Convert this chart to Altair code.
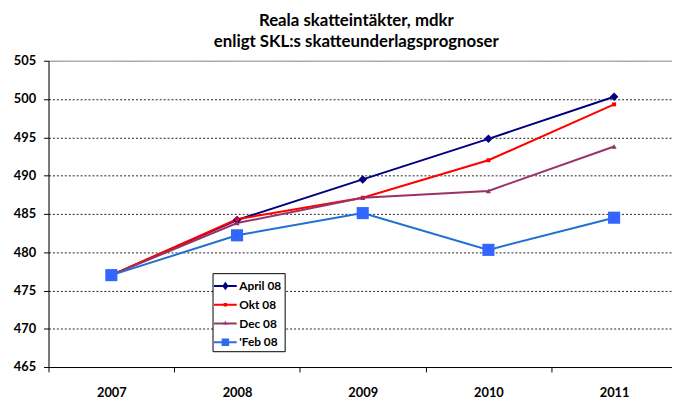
import altair as alt
import pandas as pd

years = ["2007", "2008", "2009", "2010", "2011"]
series_names = ["April 08", "Okt  08", "Dec 08", "'Feb 08"]
april = [477.0, 484.2, 489.5, 494.8, 500.3]
okt = [477.0, 484.3, 487.1, 492.0, 499.3]
dec = [477.0, 483.8, 487.1, 488.0, 493.8]
feb = [477.0, 482.2, 485.1, 480.3, 484.5]

line_colors = ["#000080", "#FF0000", "#993366", "#1F70D0"]
marker_colors = ["#000080", "#FF0000", "#993366", "#3366FF"]
legend_colors = ["#000080", "#FF0000", "#993366", "#2F6BE8"]
marker_shapes = ["diamond", "square", "triangle-up", "square"]
marker_sizes = [75, 16, 28, 150]

bar = "M-1.15,-0.1H1.15V0.1H-1.15Z "
legend_shapes = [
    bar + "M0,-0.42L0.32,0L0,0.42L-0.32,0Z",
    bar + "M-0.17,-0.17H0.17V0.17H-0.17Z",
    bar + "M0,-0.28L0.22,0.12L-0.22,0.12Z",
    bar + "M-0.38,-0.38H0.38V0.38H-0.38Z",
]

rows = []
for name, vals in zip(series_names, [april, okt, dec, feb]):
    for y, v in zip(years, vals):
        rows.append({"series": name, "year": y, "value": v})
df = pd.DataFrame(rows)

FONT = "Lato"

x_enc = alt.X(
    "year:N",
    sort=years,
    scale=alt.Scale(type="band", range=[0, 636], paddingInner=0, paddingOuter=0),
    axis=alt.Axis(
        title=None, tickBand="extent", tickSize=5, tickColor="#000000",
        domainColor="#000000", labelFont=FONT, labelFontSize=13,
        labelFontWeight="bold", labelColor="#000000", labelPadding=15,
        labelAngle=0, grid=False,
    ),
)
y_enc = alt.Y(
    "value:Q",
    scale=alt.Scale(domain=[465, 505], nice=False, zero=False),
    axis=alt.Axis(
        title=None, values=list(range(465, 506, 5)), tickSize=5,
        tickColor="#000000", domainColor="#000000", labelFont=FONT,
        labelFontSize=13, labelFontWeight="bold", labelColor="#000000",
        labelPadding=8, grid=True,
        gridColor={"condition": {"test": "datum.value === 505", "value": "#888888"}, "value": "#222222"},
        gridDash={"condition": {"test": "datum.value === 505", "value": [1, 0]}, "value": [2, 2]},
        gridWidth=1,
    ),
)

base = alt.Chart(df).encode(x=x_enc, y=y_enc)

lines = base.mark_line(strokeWidth=2).encode(
    color=alt.Color("series:N", scale=alt.Scale(domain=series_names, range=line_colors), legend=None),
    detail="series:N",
)

point_layers = []
for name, col, shp, sz in zip(series_names, marker_colors, marker_shapes, marker_sizes):
    point_layers.append(
        base.transform_filter(alt.datum.series == name).mark_point(
            filled=True, opacity=1, color=col, shape=shp, size=sz
        )
    )

leg = alt.Legend(
    title=None, orient="none", legendX=166, legendY=215, symbolSize=400,
    symbolOpacity=1, symbolStrokeWidth=0, strokeColor="#000000", fillColor="#FFFFFF",
    padding=3, rowPadding=3, labelFont=FONT, labelFontSize=12, labelFontWeight="bold",
    labelColor="#000000", labelOffset=4,
)
legend_layer = base.mark_point(filled=True, opacity=0).encode(
    color=alt.Color("series:N", scale=alt.Scale(domain=series_names, range=legend_colors), legend=leg),
    shape=alt.Shape("series:N", scale=alt.Scale(domain=series_names, range=legend_shapes), legend=leg),
)

chart = (
    alt.layer(lines, *point_layers, legend_layer)
    .resolve_scale(color="independent", shape="independent")
    .properties(
        width=631,
        height=310,
        autosize=alt.AutoSizeParams(type="none"),
        padding={"left": 41, "top": 51, "right": 0, "bottom": 30},
        title=alt.TitleParams(
            ["Reala skatteintäkter, mdkr", "enligt SKL:s skatteunderlagsprognoser"],
            font=FONT, fontSize=17, fontWeight="bold", color="#000000",
            anchor="middle", lineHeight=21, offset=4, dx=-4,
        ),
    )
    .configure_view(stroke=None)
    .configure(background="#FFFFFF")
)

chart.save("out.html", embed_options={"renderer": "svg", "actions": False})
